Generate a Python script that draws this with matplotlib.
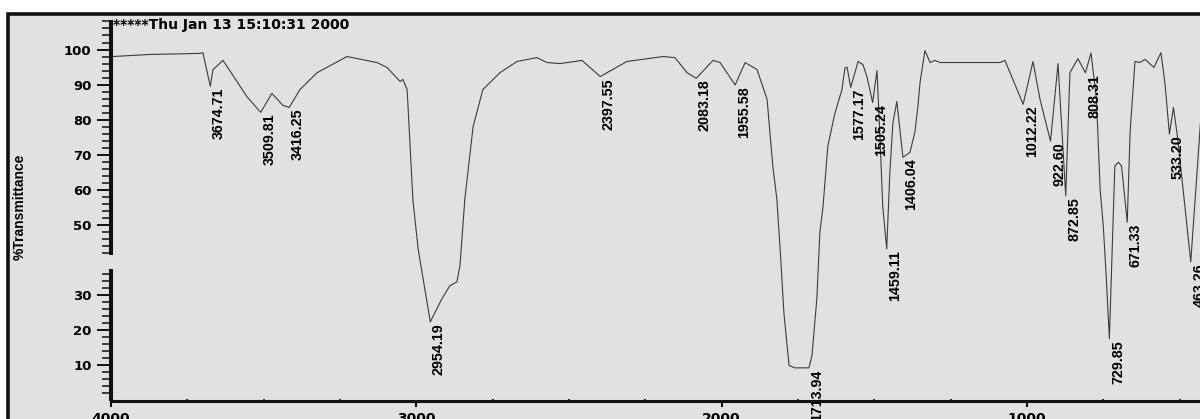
import numpy as np
import matplotlib
matplotlib.use('Agg')
import matplotlib.pyplot as plt
from matplotlib.patches import Rectangle
from matplotlib.ticker import FixedLocator

plt.rcParams['font.family'] = 'DejaVu Sans'
narrow = ['Liberation Sans Narrow', 'Liberation Sans']

# spectrum: wavenumber (cm-1) and %T
wavenumber = [3995, 3872, 3708, 3699, 3674.71, 3666, 3633, 3555, 3509.81, 3473,
              3437, 3416.25, 3381, 3325, 3227, 3129, 3096, 3053, 3044, 3030,
              3011, 2994, 2954.19, 2916, 2890, 2867, 2857, 2841, 2814, 2782,
              2726, 2670, 2605, 2572, 2529, 2457, 2397.55, 2310, 2192, 2153,
              2113, 2083.18, 2028, 2005, 1955.58, 1923, 1884, 1851, 1832, 1819,
              1806, 1796, 1779, 1760, 1713.94, 1704, 1688, 1678, 1668, 1652,
              1629, 1606, 1596, 1589, 1577.17, 1553, 1537, 1524, 1505.24, 1491,
              1481, 1472, 1459.11, 1449, 1439, 1426, 1406.04, 1383, 1367, 1357,
              1350, 1334, 1317, 1301, 1285, 1088, 1072, 1046, 1012.22, 980,
              957, 922.60, 898, 872.85, 859, 833, 808.31, 790, 772, 760,
              750, 740, 729.85, 712, 700, 690, 671.33, 662, 646, 630,
              613, 584, 561, 548, 533.20, 520, 507, 485, 463.26, 445,
              430, 420]
transmittance = [98.0, 98.6, 98.9, 99.1, 89.5, 94.3, 96.9, 86.6, 82.1, 87.5,
                 84.1, 83.5, 88.6, 93.4, 98.0, 96.3, 94.9, 90.9, 91.5, 88.6,
                 57.0, 43.2, 22.4, 29.0, 32.7, 33.8, 38.4, 57.4, 78.0, 88.6,
                 93.4, 96.6, 97.7, 96.3, 96.0, 96.9, 92.3, 96.6, 98.0, 97.7,
                 93.4, 91.8, 96.9, 96.3, 89.9, 96.3, 94.3, 85.8, 66.5, 57.4,
                 40.0, 25.0, 10.0, 9.3, 9.3, 12.8, 29.0, 48.0, 55.0, 72.5,
                 81.8, 88.5, 94.7, 95.0, 89.2, 96.6, 95.7, 92.3, 84.9, 94.0,
                 74.6, 55.0, 43.2, 64.7, 79.0, 85.2, 69.3, 70.7, 76.4, 83.8,
                 90.6, 99.7, 96.3, 96.9, 96.3, 96.3, 96.9, 91.5, 84.4, 96.6,
                 85.8, 73.9, 96.0, 58.3, 93.4, 97.4, 93.4, 99.0, 85.8, 60.0,
                 50.0, 35.0, 17.6, 66.8, 67.9, 66.8, 50.8, 76.4, 96.6, 96.3,
                 97.2, 94.9, 99.1, 90.6, 75.9, 83.5, 75.3, 57.4, 39.5, 62.2,
                 81.0, 92.0]

peaks = [3674.71, 3509.81, 3416.25, 2954.19, 2397.55, 2083.18, 1955.58,
         1713.94, 1577.17, 1505.24, 1459.11, 1406.04, 1012.22, 922.60,
         872.85, 808.31, 729.85, 671.33, 533.20, 463.26]

y_major = [10, 20, 30, 50, 60, 70, 80, 90, 100]
y_minor = [2, 4, 6, 8, 12, 14, 16, 18, 22, 24, 26, 28, 32, 34, 36,
           42, 44, 46, 48, 52, 54, 56, 58, 62, 64, 66, 68, 72, 74, 76, 78,
           82, 84, 86, 88, 92, 94, 96, 98, 102, 104, 106, 108]
x_major = [4000, 3000, 2000, 1000]
x_minor = [3750, 3500, 3250, 2750, 2500, 2250, 1750, 1500, 1250, 750, 500]

W, H = 1200, 419
fig = plt.figure(figsize=(W / 100, H / 100), dpi=100)
fig.patch.set_facecolor('white')

# scanned paper with the thick outer frame
fig.patches.append(Rectangle((8 / W, -0.1), 1.2, 1.1 - 14 / H,
                             transform=fig.transFigure, facecolor='#e1e1e1',
                             edgecolor='#111111', linewidth=2.6, zorder=-5))

ax = fig.add_axes([111 / W, 18.5 / H, 1089 / W, 380.8 / H])
ax.set_facecolor('none')
ax.plot(wavenumber, transmittance, color='#3c3c3c', linewidth=0.8)
ax.set_xlim(4000, 433)
ax.set_ylim(0, 108.5)

for s in ['top', 'right', 'left']:
    ax.spines[s].set_visible(False)
ax.spines['bottom'].set_linewidth(2.2)
ax.spines['bottom'].set_color('#111111')

# broken y axis line
ytr = ax.get_yaxis_transform()
ax.plot([0, 0], [0, 37.5], transform=ytr, color='#111111', lw=2.9,
        clip_on=False, solid_capstyle='butt')
ax.plot([0, 0], [41.5, 108.5], transform=ytr, color='#111111', lw=2.9,
        clip_on=False, solid_capstyle='butt')

ax.yaxis.set_major_locator(FixedLocator(y_major))
ax.yaxis.set_minor_locator(FixedLocator(y_minor))
ax.xaxis.set_major_locator(FixedLocator(x_major))
ax.xaxis.set_minor_locator(FixedLocator(x_minor))
ax.tick_params(axis='y', which='major', direction='out', length=10, width=1.4,
               pad=4, labelsize=9.5, color='#111111')
ax.tick_params(axis='y', which='minor', direction='out', length=6.5, width=1.1,
               color='#111111')
ax.tick_params(axis='x', which='major', direction='out', length=4, width=1.5,
               pad=4, labelsize=10, color='#111111')
ax.tick_params(axis='x', which='minor', direction='inout', length=3, width=1.2,
               color='#111111')
plt.setp(ax.get_yticklabels() + ax.get_xticklabels(), fontweight='bold')

# peak labels
wn_inc = wavenumber[::-1]
t_inc = transmittance[::-1]
for p in peaks:
    t = np.interp(p, wn_inc, t_inc)
    ax.annotate('%.2f' % p, xy=(p, t), xytext=(1.2, -1), textcoords='offset points',
                rotation=90, ha='left', va='top', fontsize=10.3,
                family=narrow, fontweight='bold', annotation_clip=False)

fig.text(113 / W, 1 - 25 / H, '*****Thu Jan 13 15:10:31 2000', fontsize=10,
         fontweight='bold', va='center', ha='left')
fig.text(20 / W, 1 - 207 / H, '%Transmittance', rotation=90, fontsize=10,
         family=narrow, fontweight='bold', va='center', ha='center')

fig.savefig('out.png', dpi=100)
